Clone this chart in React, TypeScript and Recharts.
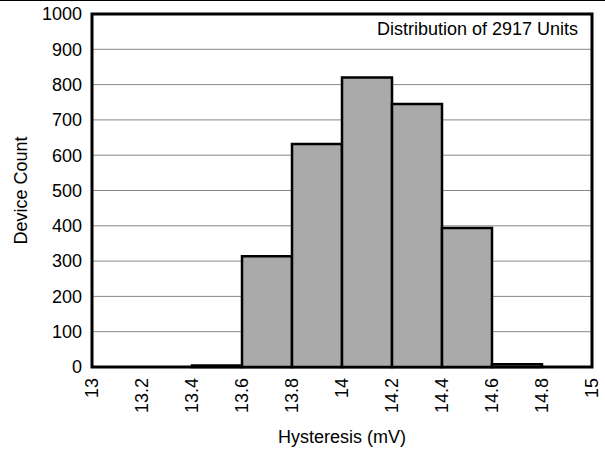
import React from 'react';
import { BarChart, Bar, XAxis, YAxis, CartesianGrid, Label, ReferenceArea } from 'recharts';

// histogram bins (lower edge, mV) and counts
const binStarts = [13.0, 13.2, 13.4, 13.6, 13.8, 14.0, 14.2, 14.4, 14.6, 14.8];
const counts = [0, 0, 4, 314, 632, 820, 745, 394, 8, 0];
const xTicks = [13, 13.2, 13.4, 13.6, 13.8, 14, 14.2, 14.4, 14.6, 14.8, 15];
const yTicks = [0, 100, 200, 300, 400, 500, 600, 700, 800, 900, 1000];

const data = binStarts.map((b, i) => ({ bin: b.toFixed(1), mid: b + 0.1, count: counts[i] }));

const FONT = '"Liberation Sans", Arial, Helvetica, sans-serif';
const FS = 18;

const XTick = ({ x, y, payload }: any) => (
  <text
    x={x}
    y={y}
    transform={`rotate(-90, ${x}, ${y})`}
    textAnchor="end"
    dominantBaseline="central"
    fontSize={FS}
    fontFamily={FONT}
    fill="#000"
  >
    {String(payload.value)}
  </text>
);

export default function App() {
  return (
    <div style={{ position: 'absolute', left: 0, top: 0, width: 605, height: 451, background: '#fff', fontFamily: FONT }}>
      <div style={{ position: 'absolute', left: 0, top: 0, width: 605, borderTop: '1px solid #000' }} />
      <BarChart
        width={605}
        height={451}
        data={data}
        barCategoryGap={0}
        barGap={0}
        margin={{ top: 14, right: 13, left: 0, bottom: 0 }}
      >
        <CartesianGrid vertical={false} stroke="#888" strokeWidth={1} />
        <XAxis xAxisId="cat" dataKey="bin" type="category" hide height={0} />
        <XAxis
          xAxisId="num"
          dataKey="mid"
          type="number"
          domain={[13, 15]}
          ticks={xTicks}
          interval={0}
          height={84}
          tick={<XTick />}
          tickLine={false}
          tickSize={8}
          tickMargin={3}
          axisLine={false}
          allowDataOverflow
        >
          <Label value="Hysteresis (mV)" position="insideBottom" offset={8} fontSize={FS} fill="#000" fontFamily={FONT} />
        </XAxis>
        <YAxis
          dataKey="count"
          domain={[0, 1000]}
          ticks={yTicks}
          interval={0}
          width={92}
          tickLine={false}
          tickSize={8}
          tickMargin={2}
          axisLine={false}
          tick={{ fontSize: FS, fill: '#000', fontFamily: FONT }}
        >
          <Label value="Device Count" angle={-90} position="insideLeft" offset={21} fontSize={FS} fill="#000" fontFamily={FONT} style={{ textAnchor: 'middle' }} />
        </YAxis>
        <Bar xAxisId="cat" dataKey="count" fill="#aaaaaa" stroke="#000" strokeWidth={2.5} isAnimationActive={false} />
        <ReferenceArea
          xAxisId="num"
          x1={13}
          x2={15}
          y1={0}
          y2={1000}
          fill="none"
          fillOpacity={0}
          stroke="#000"
          strokeWidth={3}
          ifOverflow="visible"
        />
      </BarChart>
      <div style={{ position: 'absolute', right: 27, top: 18, fontSize: FS, lineHeight: '22px', color: '#000', fontFamily: FONT }}>
        Distribution of 2917 Units
      </div>
    </div>
  );
}
